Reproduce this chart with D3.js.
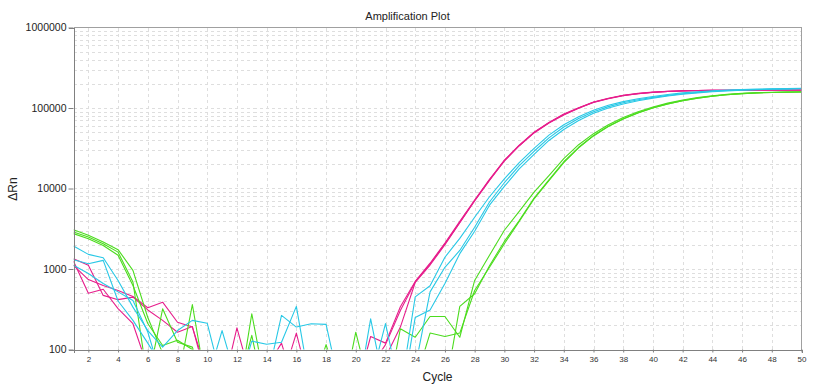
<!DOCTYPE html>
<html><head><meta charset="utf-8">
<script src="https://cdn.jsdelivr.net/npm/d3@7"></script>
<style>
body{margin:0;background:#fff}
svg{display:block;font-family:"Liberation Sans",Arial,sans-serif}
</style>
</head><body>
<svg id="chart" width="815" height="387"></svg>
<script>
// ---------------- DATA ----------------
const cycles = [1,2,3,4,5,6,7,8,9,10,11,12,13,14,15,16,17,18,19,20,21,22,23,24,25,26,27,28,29,30,31,32,33,34,35,36,37,38,39,40,41,42,43,44,45,46,47,48,49,50];
const xTickValues = [2,4,6,8,10,12,14,16,18,20,22,24,26,28,30,32,34,36,38,40,42,44,46,48,50];
const yTickValues = [100,1000,10000,100000,1000000];
const yTickLabels = ["100","1000","10000","100000","1000000"];

const magenta1 = [1340,1110,470,416,447,310,230,164,193,40,30,186,40,60,120,30,20,30,20,30,145,120,340,700,1180,2100,3900,7200,13000,22000,34000,49000,65000,82000,99000,118000,131000,143000,151000,157000,161000,163000,165000,166000,166000,167000,167000,167000,167000,167000];
const magenta2 = [1110,740,625,540,455,330,387,218,190,50,40,20,30,20,40,160,30,20,30,20,60,115,305,690,1150,2050,3800,7100,12800,22500,34500,50000,66000,84000,101000,119000,132000,144000,152000,157500,161000,163500,165000,166000,166000,166000,167000,167000,167000,167000];
const magenta3 = [1250,500,560,322,209,60,40,30,20,30,20,30,20,30,20,30,20,30,20,30,40,80,190,680,1120,2000,3750,7000,12600,22000,34000,49500,65500,83000,100000,117500,130500,142500,150500,156500,160500,163000,164500,165500,166000,166000,166500,166500,166500,166500];

const cyan1 = [1930,1520,1380,720,336,172,107,172,230,212,40,30,127,116,123,343,30,20,30,20,40,210,30,450,620,1400,2400,4400,7900,13200,21000,31500,46000,62000,78000,94000,108000,120000,130000,139000,147000,154000,159000,164000,167000,170000,172000,173000,174000,176000];
const cyan2 = [1300,1160,1280,400,230,120,60,40,60,40,172,40,30,40,265,190,209,205,30,20,240,30,20,250,310,660,1550,2950,6200,10600,17500,26500,39500,54000,70000,86000,100000,112000,123000,132500,141000,148000,154000,159000,163000,166500,169000,171000,172000,174000];
const cyan3 = [1110,880,660,520,407,165,40,30,20,30,20,30,20,30,20,30,20,30,20,30,20,30,20,60,520,1050,1700,3300,6800,11800,19200,29000,42500,58000,74000,90000,104000,116000,126500,135500,143500,150500,156500,161500,165000,168000,170000,172000,173000,175000];

const green1 = [3080,2620,2160,1740,960,250,90,40,362,30,20,20,278,30,20,30,20,30,20,164,30,20,181,142,257,257,142,720,1480,3030,5200,9000,14500,23500,35000,48000,62000,76000,90000,103000,115000,126000,135000,142000,148000,152000,155000,157000,158000,159000];
const green2 = [2880,2500,2060,1620,690,40,320,123,107,30,20,30,150,20,30,20,30,115,30,20,30,20,30,40,160,145,160,540,1050,2060,3900,7400,12500,21000,32000,45000,59000,73000,87000,100000,112000,123000,132000,140000,146000,151000,154000,156000,157000,158000];
const green3 = [2750,2380,1960,1480,625,210,112,130,100,40,20,30,20,30,20,30,20,30,20,30,20,30,20,30,20,30,343,493,1100,2200,4000,7600,12800,21500,32500,45500,59500,73500,87500,100500,112500,123500,132500,140500,146500,151000,154000,156000,157500,158000];

// ---------------- CHART ----------------
const svg = d3.select("#chart");
const L = 73.5, R = 801.5, T = 27.5, B = 349.5;

const x = d3.scaleLinear().domain([1, 50]).range([L, R]);
const y = d3.scaleLog().domain([100, 1000000]).range([B, T]);

// grid
const grid = svg.append("g").attr("stroke", "#dedede").attr("stroke-dasharray", "3,3")
  .attr("shape-rendering", "crispEdges");
grid.selectAll("line.v").data(xTickValues.filter(v => v < 50)).join("line")
  .attr("x1", d => Math.round(x(d)) + 0.5).attr("x2", d => Math.round(x(d)) + 0.5)
  .attr("y1", T).attr("y2", B);
grid.selectAll("line.h").data(y.ticks().filter(v => v > 100 && v < 1000000)).join("line")
  .attr("y1", d => Math.round(y(d)) + 0.5).attr("y2", d => Math.round(y(d)) + 0.5)
  .attr("x1", L).attr("x2", R);

// curves
svg.append("clipPath").attr("id", "clip").append("rect")
  .attr("x", L).attr("y", T).attr("width", R - L).attr("height", B - T);

const series = [
  {values: magenta1, color: "#e61e8c"},
  {values: magenta2, color: "#e61e8c"},
  {values: magenta3, color: "#e61e8c"},
  {values: green1, color: "#4cdc1e"},
  {values: green2, color: "#4cdc1e"},
  {values: green3, color: "#4cdc1e"},
  {values: cyan1, color: "#28c8e6"},
  {values: cyan2, color: "#28c8e6"},
  {values: cyan3, color: "#28c8e6"}
];
const line = d3.line().x((d, i) => x(cycles[i])).y(d => y(d));
svg.append("g").attr("clip-path", "url(#clip)")
  .selectAll("path").data(series).join("path")
  .attr("fill", "none")
  .attr("stroke", d => d.color)
  .attr("stroke-width", 1.1)
  .attr("stroke-linejoin", "round")
  .attr("d", d => line(d.values));

// frame (top / right)
svg.append("path").attr("d", `M${L},${T}H${R}V${B}`).attr("fill", "none")
  .attr("stroke", "#a0a0a0").attr("shape-rendering", "crispEdges");

// axes
const xAxis = d3.axisBottom(x).tickValues(xTickValues).tickSize(3).tickPadding(4).tickFormat(d3.format("d"));
const gx = svg.append("g").attr("transform", `translate(0,${B})`).call(xAxis);
gx.select(".domain").attr("stroke", "#808080").attr("shape-rendering", "crispEdges");
gx.selectAll(".tick line").attr("stroke", "#808080");
gx.selectAll(".tick text").attr("font-size", "8px").attr("fill", "#333")
  .attr("font-family", "'Liberation Sans', Arial, sans-serif");

const yAxis = d3.axisLeft(y).tickValues(yTickValues).tickSize(5).tickPadding(2)
  .tickFormat((d, i) => yTickLabels[i]);
const gy = svg.append("g").attr("transform", `translate(${L},0)`).call(yAxis);
gy.select(".domain").attr("stroke", "#808080").attr("shape-rendering", "crispEdges");
gy.selectAll(".tick line").attr("stroke", "#808080");
gy.selectAll(".tick text").attr("font-size", "10.5px").attr("fill", "#222")
  .attr("font-family", "'Liberation Sans', Arial, sans-serif");

// titles
svg.append("text").attr("x", 407.5).attr("y", 20).attr("text-anchor", "middle")
  .attr("font-size", "11px").attr("fill", "#222").text("Amplification Plot");
svg.append("text").attr("x", (L + R) / 2).attr("y", 381).attr("text-anchor", "middle")
  .attr("font-size", "12px").attr("fill", "#222").text("Cycle");
svg.append("text").attr("transform", "translate(17,189) rotate(-90)").attr("text-anchor", "middle")
  .attr("font-size", "12px").attr("fill", "#222").text("ΔRn");
</script>
</body></html>
